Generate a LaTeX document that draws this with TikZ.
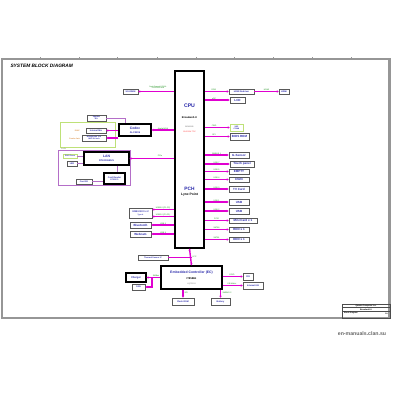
\documentclass[tikz,border=0pt]{standalone}
\usepackage{fontspec}
\setmainfont{Liberation Sans}
\usepackage{tikz}
\usetikzlibrary{arrows.meta, positioning, calc, shadows}
\definecolor{cBus}{RGB}{224,0,208}
\definecolor{cText}{RGB}{40,40,170}
\definecolor{cLbl}{RGB}{20,140,20}
\definecolor{cFrame}{RGB}{150,150,150}
\definecolor{cAudio}{RGB}{190,225,120}
\definecolor{cGroup}{RGB}{180,110,200}
\newcommand{\fsz}[1]{\fontsize{#1}{#1}\selectfont}
\tikzset{
    devbox/.style ={rectangle, draw=black!65, line width=0.6pt, fill=white, inner sep=0pt, align=center, text=cText, font=\bfseries\fsz{3}, drop shadow={shadow xshift=0.7pt, shadow yshift=-0.7pt, fill=black!30}},
    chipbox/.style={rectangle, draw=black, line width=1.1pt, fill=white, inner sep=0pt, align=center, text=cText, font=\bfseries\fsz{3.4}},
    grpbox/.style ={rectangle, line width=0.7pt, inner sep=0pt},
    bus/.style    ={draw=cBus, line width=1.4pt, -{Stealth[length=2pt,width=2.4pt]}},
    sidebus/.style={draw=cGroup, line width=0.7pt},
    buslbl/.style ={font=\fsz{2}, text=cLbl, inner sep=0.4pt, above},
    note/.style   ={font=\fsz{1.9}, inner sep=0pt},
}
\begin{document}
\begin{tikzpicture}[x=1pt, y=-1pt]
\useasboundingbox (0,0) rectangle (400,400);
% sheet frame
\draw[cFrame, line width=1.2pt] (2,59) rectangle (390,318);
\draw[cFrame, line width=0.5pt] (388,59) -- (388,318);
\foreach \tx in {40,79,117,157,196,234,273,312,351}
    \draw[cFrame, line width=0.6pt] (\tx,57) -- (\tx,60);
\node[anchor=west, font=\bfseries\itshape\fsz{4.8}] (title) at (7,66) {SYSTEM BLOCK DIAGRAM};

% CPU / PCH
\node[chipbox, minimum width=29pt, minimum height=177pt] (cpu) at (189.5,159.5) {};
\node[text=cText, font=\bfseries\fsz{5.2}] (cpulbl) at (189.5,106) {CPU};
\node[font=\bfseries\fsz{2.6}] (cpusub) at (189.5,118) {Broadwell-U};
\node[note, text=black!60] (cpupkg) at (189.5,127) {BGA1168};
\node[note, text=red!70] (cpupwr) at (189.5,132) {15W/28W TDP};
\node[text=cText, font=\bfseries\fsz{4.8}] (pchlbl) at (189.5,189) {PCH};
\node[font=\bfseries\fsz{3.3}] (pchsub) at (189.5,195) {Lynx Point};

% memory
\node[devbox, minimum width=15pt, minimum height=5pt, font=\bfseries\fsz{2.2}] (dimm) at (130.5,91.5) {SO-DIMM};
\draw[bus] (cpu.west |- dimm) -- (dimm);
\node[buslbl, text=cLbl, align=center, font=\fsz{1.8}] (dimmlbl) at (158,89.5) {Dual Channel DDR3L\\1333/1600 MHz};

% audio
\node[grpbox, draw=cAudio, minimum width=55pt, minimum height=25pt] (audiogrp) at (87.5,134.5) {};
\node[note, text=black!50, anchor=north west] (audiolbl) at (61,147.5) {Audio};
\node[chipbox, minimum width=32pt, minimum height=12pt, align=center] (codec) at (135,130) {Codec\\[0.6pt]{\fsz{2.4}ALC3236}};
\node[devbox, minimum width=20pt, minimum height=5pt, font=\bfseries\fsz{2.2}] (imic) at (96,130.5) {Internal Mic};
\node[devbox, minimum width=24pt, minimum height=6pt, font=\bfseries\fsz{1.9}] (hpjack) at (94,138) {Headphone Out\\/MIC IN Jack};
\node[devbox, minimum width=19pt, minimum height=6pt, font=\bfseries\fsz{1.9}] (spk) at (96.5,118) {Speaker\\R/L};
\node[note, text=orange!80!black, anchor=east] (dmic) at (80,130.5) {DMIC};
\node[note, text=orange!80!black, anchor=east] (combo) at (80,138.5) {Combo Jack};
\draw[bus] (codec.west |- imic) -- (imic);
\draw[bus] (codec.west |- hpjack) -- (hpjack);
\draw[sidebus] (spk) -| ([xshift=-10pt]codec.north);
\draw[bus] (cpu.west |- codec) -- (codec);
\node[buslbl] (hdalbl) at (163,130) {Azalia/HDA};

% LAN group
\node[grpbox, draw=cGroup, minimum width=72pt, minimum height=35pt] (langrp) at (94,167.5) {};
\node[chipbox, minimum width=45pt, minimum height=13pt] (lan) at (106.5,158.5) {LAN\\[0.6pt]{\fsz{2.4}RTL8106EUS}};
\node[devbox, draw=cAudio, minimum width=14pt, minimum height=4pt, font=\bfseries\fsz{1.9}] (rj45) at (70,156) {RJ45 Conn};
\node[devbox, minimum width=10pt, minimum height=5pt, font=\bfseries\fsz{2.2}] (led) at (72,163.5) {LED};
\node[chipbox, minimum width=21pt, minimum height=11pt, font=\bfseries\fsz{2.2}] (cardrd) at (114.5,178.5) {Card Reader\\{\fsz{1.9}RTS5170}};
\node[devbox, minimum width=16pt, minimum height=5pt, font=\bfseries\fsz{2.1}] (cardslot) at (84,181.5) {Card SD};
\draw[sidebus] (rj45) -- (rj45 -| lan.west);
\draw[sidebus] (led) -- (led -| lan.west);
\draw[sidebus] ([xshift=10.5pt]lan.south) -- ([xshift=2.5pt]cardrd.north);
\draw[sidebus] (cardslot) -- (cardslot -| cardrd.west);
\draw[bus] (cpu.west |- lan) -- (lan);
\node[buslbl] (pcielbl) at (160,157) {PCIe};

% PCH left side
\node[devbox, minimum width=23pt, minimum height=10pt, font=\bfseries\fsz{2.4}] (usb3) at (140.5,213) {USB3.0/2.0 x 2\\[0.5pt]{\fsz{1.7}Type-A}};
\draw[bus] (cpu.west |- 0,209.5) -- (usb3.east |- 0,209.5);
\draw[bus] (cpu.west |- 0,216.5) -- (usb3.east |- 0,216.5);
\node[buslbl] (u3lbl) at (163,209.5) {USB3.0 (P1-P2)};
\node[buslbl] (u2lbl) at (163,216.5) {USB2.0 (P0-P1)};
\node[devbox, minimum width=21pt, minimum height=6pt] (bt) at (140.5,225) {Bluetooth};
\node[devbox, minimum width=21pt, minimum height=6pt] (cam) at (140.5,234) {Webcam};
\draw[bus] (cpu.west |- bt) -- (bt);
\draw[bus] (cpu.west |- cam) -- (cam);
\node[buslbl] (btlbl) at (163,225) {USB 6};
\node[buslbl] (camlbl) at (163,234) {USB 8};

% CPU right side
\node[devbox, minimum width=25pt, minimum height=5pt, font=\bfseries\fsz{2.2}] (hdmi) at (241.5,91.5) {HDMI Redriver};
\node[devbox, minimum width=10pt, minimum height=5pt, font=\bfseries\fsz{2.2}] (hdmic) at (284,91.5) {HDMI};
\node[devbox, minimum width=15pt, minimum height=6pt] (lcd) at (237.5,100) {LCD};
\node[devbox, draw=cAudio, minimum width=13pt, minimum height=7pt, font=\bfseries\fsz{1.9}] (xdp) at (236.5,127.5) {XDP\\CONN};
\node[devbox, minimum width=19pt, minimum height=7pt] (bios) at (239.5,136.5) {BIOS ROM};
\draw[bus] (cpu.east |- hdmi) -- (hdmi);
\draw[bus] (hdmi) -- (hdmic);
\draw[bus] (cpu.east |- lcd) -- (lcd);
\draw[bus] (cpu.east |- xdp) -- (xdp);
\draw[bus] (cpu.east |- bios) -- (bios);
\node[buslbl] (ddilbl) at (214,91.5) {DDI1};
\node[buslbl] (hdmilbl) at (266.5,91.5) {HDMI};
\node[buslbl] (edplbl) at (214,100) {eDP};
\node[buslbl] (xdplbl) at (214,127.5) {JTAG};
\node[buslbl] (spilbl) at (214,136.5) {SPI};

% PCH right side
\node[devbox, minimum width=20pt, minimum height=6pt] (gsens) at (239,155) {G-Sensor};
\node[devbox, minimum width=24pt, minimum height=6pt] (touch) at (242,164) {Touch panel};
\node[devbox, minimum width=20pt, minimum height=5pt] (empty) at (239,171.5) {EMPTY};
\node[devbox, minimum width=20pt, minimum height=5pt] (cn23) at (239,179.5) {CN23};
\node[devbox, minimum width=20pt, minimum height=6pt] (tvcard) at (239,189) {TV Card};
\node[devbox, minimum width=20pt, minimum height=6pt] (usba) at (239,202) {USB};
\node[devbox, minimum width=20pt, minimum height=6pt] (usbb) at (239,211) {USB};
\node[devbox, minimum width=28pt, minimum height=5pt] (mini) at (243,220.5) {Mini Card x 1};
\node[devbox, minimum width=20pt, minimum height=5pt] (hdd) at (239,229.5) {HDD x 1};
\node[devbox, minimum width=20pt, minimum height=5pt] (odd) at (239,239.5) {ODD x 1};
\foreach \dev/\lbl in {gsens/SMBUS 1, touch/USB 7, empty/USB 5, cn23/USB 4, tvcard/USB 3, usba/USB 1, usbb/USB 2, mini/PCIE, hdd/SATA0, odd/SATA1} {
    \draw[bus] (cpu.east |- \dev) -- (\dev);
    \node[buslbl] at ($(cpu.east |- \dev)+(12,0)$) {\lbl};
}

% EC
\node[chipbox, minimum width=61pt, minimum height=23pt] (ec) at (191.5,277.5) {};
\node[text=cText, font=\bfseries\fsz{3.4}] (eclbl) at (191.5,273) {Embedded Controller (EC)};
\node[font=\bfseries\fsz{2.6}] (ecsub) at (191.5,279) {IT8586E};
\node[note, text=black!55] (ecpkg) at (191.5,284) {LQFP128};
\draw[bus, {Stealth[length=2pt,width=2.4pt]}-{Stealth[length=2pt,width=2.4pt]}] (cpu.south) -- (ec.north);
\node[buslbl, anchor=west] (lpclbl) at (192,257) {LPC};
\node[devbox, minimum width=30pt, minimum height=5pt, font=\bfseries\fsz{2}] (therm) at (153,257.5) {Thermal Sensor IC};
\draw[bus, -] (therm) -- (therm -| ec.north);
\node[chipbox, minimum width=20pt, minimum height=9pt, font=\bfseries\fsz{2.6}] (charger) at (136,277.5) {Charger};
\node[devbox, minimum width=13pt, minimum height=6pt, font=\bfseries\fsz{2.2}] (fan) at (138.5,287) {FAN};
\draw[bus] (ec.west |- charger) -- (charger);
\draw[bus] (152,277.5) |- (fan);
\node[buslbl] (smblbl) at (156,277.5) {SMBus};
\node[devbox, minimum width=10pt, minimum height=7pt, font=\bfseries\fsz{2.2}] (cir) at (248,276.5) {CIR};
\node[devbox, minimum width=20pt, minimum height=7pt, font=\bfseries\fsz{2.2}] (kb) at (253,285.5) {Internal KB};
\draw[bus] (ec.east |- cir) -- (cir);
\draw[bus] (ec.east |- kb) -- (kb);
\node[buslbl] (cirlbl) at (232,276.5) {GPIO};
\node[buslbl] (kblbl) at (232,285.5) {KB Matrix};
\node[devbox, minimum width=22pt, minimum height=7pt, font=\bfseries\fsz{2.2}] (flash) at (183,301.5) {Flash ROM};
\node[devbox, minimum width=19pt, minimum height=7pt, font=\bfseries\fsz{2.2}] (batt) at (220.5,301.5) {Battery};
\draw[bus] (ec.south -| flash) -- (flash);
\draw[bus] (ec.south -| batt) -- (batt);
\node[buslbl, anchor=west] (flashlbl) at (184,293) {SPI};
\node[buslbl, anchor=west] (battlbl) at (222,293) {SMBUS 2};

% title block
\draw[black!70, line width=0.5pt] (342,304) rectangle (390,318);
\draw[black!70, line width=0.4pt] (342,307.5) -- (390,307.5) (342,311.5) -- (390,311.5);
\node[note, font=\bfseries\fsz{2}] (tbname) at (366,305.8) {Quanta Computer Inc.};
\node[note, font=\bfseries\fsz{2}] (tbproj) at (366,309.6) {Broadwell-U};
\node[note, font=\bfseries\fsz{1.9}, anchor=west] (tbsheet) at (344,313.5) {Block Diagram};
\node[note, font=\bfseries\fsz{1.9}, anchor=east] (tbrev) at (388,313.5) {1A};

% watermark
\node[text=black!60, font=\bfseries\fsz{5.2}] (wmark) at (362,334) {en-manuals.clan.su};
\end{tikzpicture}
\end{document}
